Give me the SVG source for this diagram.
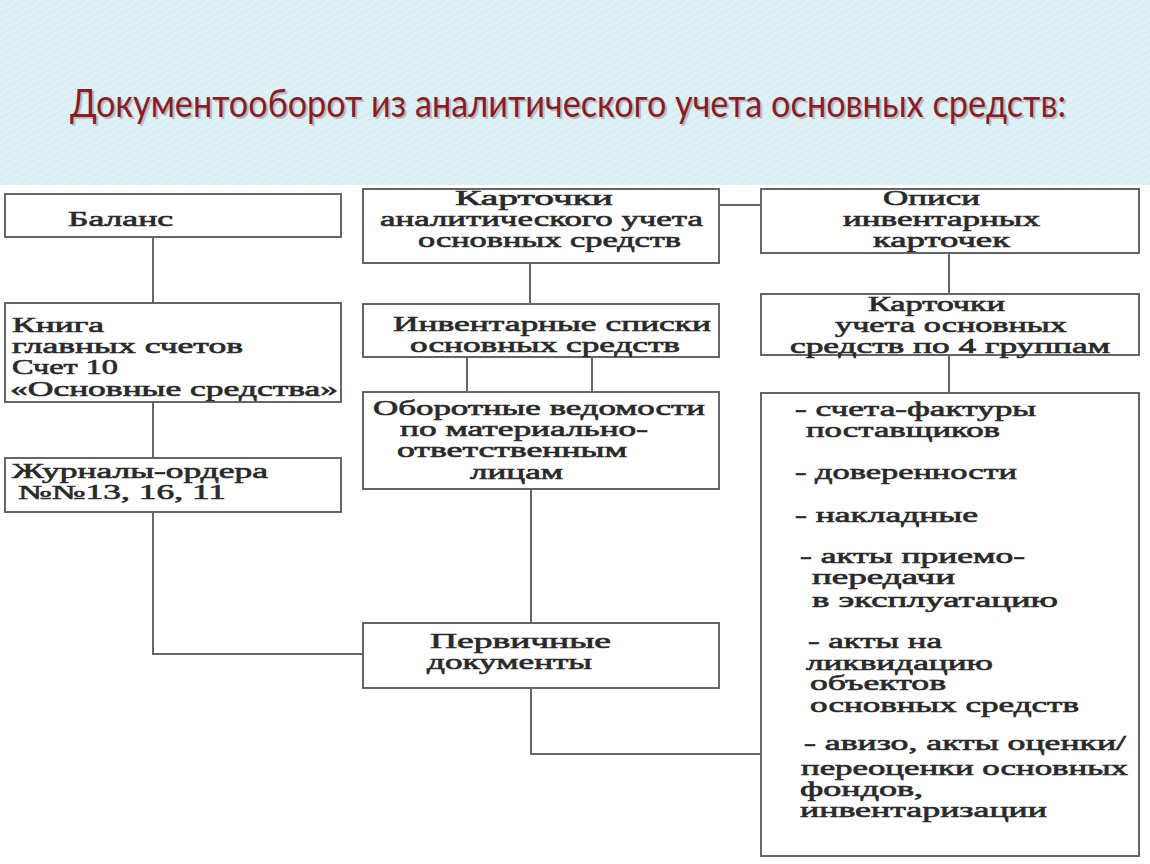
<svg xmlns="http://www.w3.org/2000/svg" width="1150" height="864" viewBox="0 0 1150 864">
<style>
.box{fill:#ffffff;stroke:#666666;stroke-width:2}
.con{fill:none;stroke:#666666;stroke-width:2}
.t{font-family:"Liberation Serif","Times New Roman",serif;font-size:20px;font-weight:normal;fill:#2a2a2a;stroke:#2a2a2a;stroke-width:0.6}
.title{font-family:Lato,"Open Sans","Liberation Sans",sans-serif;font-size:39px;fill:#8e1b24}
.shadow{font-family:Lato,"Open Sans","Liberation Sans",sans-serif;font-size:39px;fill:#555555;opacity:0.3}
</style>
<defs>
<pattern id="stripes" width="6" height="6" patternUnits="userSpaceOnUse" patternTransform="rotate(60)">
<rect width="6" height="6" fill="#ddf1f6"/>
<line x1="0" y1="0" x2="0" y2="6" stroke="#cfe9f0" stroke-width="1.5"/>
</pattern>
</defs>
<rect x="0" y="0" width="1150" height="864" fill="#ffffff"/>
<rect x="0" y="0" width="1150" height="185" fill="url(#stripes)"/>
<g id="title">
<text class="shadow" x="72" y="119" textLength="996" lengthAdjust="spacingAndGlyphs">Документооборот из аналитического учета основных средств:</text>
<text class="title" x="70" y="117" textLength="996" lengthAdjust="spacingAndGlyphs">Документооборот из аналитического учета основных средств:</text>
</g>
<g id="connectors">
<line class="con" x1="153" y1="237" x2="153" y2="303"/>
<line class="con" x1="153" y1="402" x2="153" y2="458"/>
<polyline class="con" points="153,512 153,654 363,654"/>
<line class="con" x1="530" y1="263" x2="530" y2="304"/>
<line class="con" x1="467" y1="357" x2="467" y2="392"/>
<line class="con" x1="592" y1="357" x2="592" y2="392"/>
<line class="con" x1="531" y1="489" x2="531" y2="623"/>
<polyline class="con" points="531,688 531,754 761,754"/>
<line class="con" x1="719" y1="205" x2="761" y2="205"/>
<line class="con" x1="949" y1="253" x2="949" y2="294"/>
<line class="con" x1="949" y1="355" x2="949" y2="393"/>
</g>
<g id="balance">
<rect class="box" x="5" y="194" width="336" height="43"/>
<text class="t" x="68" y="226" textLength="105" lengthAdjust="spacingAndGlyphs">Баланс</text>
</g>
<g id="ledger">
<rect class="box" x="5" y="303" width="336" height="99"/>
<text class="t" x="12" y="332" textLength="92" lengthAdjust="spacingAndGlyphs">Книга</text>
<text class="t" x="12" y="353" textLength="231" lengthAdjust="spacingAndGlyphs">главных счетов</text>
<text class="t" x="12" y="374" textLength="106" lengthAdjust="spacingAndGlyphs">Счет 10</text>
<text class="t" x="10" y="396" textLength="328" lengthAdjust="spacingAndGlyphs">«Основные средства»</text>
</g>
<g id="journals">
<rect class="box" x="5" y="458" width="336" height="54"/>
<text class="t" x="12" y="478" textLength="256" lengthAdjust="spacingAndGlyphs">Журналы-ордера</text>
<text class="t" x="18" y="499" textLength="208" lengthAdjust="spacingAndGlyphs">№№13, 16, 11</text>
</g>
<g id="cards-analytic">
<rect class="box" x="363" y="189" width="356" height="74"/>
<text class="t" x="455" y="205" textLength="158" lengthAdjust="spacingAndGlyphs">Карточки</text>
<text class="t" x="380" y="226" textLength="323" lengthAdjust="spacingAndGlyphs">аналитического учета</text>
<text class="t" x="418" y="247" textLength="263" lengthAdjust="spacingAndGlyphs">основных средств</text>
</g>
<g id="inventory-lists">
<rect class="box" x="363" y="304" width="356" height="53"/>
<text class="t" x="393" y="331" textLength="318" lengthAdjust="spacingAndGlyphs">Инвентарные списки</text>
<text class="t" x="410" y="352" textLength="270" lengthAdjust="spacingAndGlyphs">основных средств</text>
</g>
<g id="turnover">
<rect class="box" x="363" y="392" width="356" height="97"/>
<text class="t" x="373" y="415" textLength="332" lengthAdjust="spacingAndGlyphs">Оборотные ведомости</text>
<text class="t" x="400" y="436" textLength="248" lengthAdjust="spacingAndGlyphs">по материально-</text>
<text class="t" x="397" y="457" textLength="230" lengthAdjust="spacingAndGlyphs">ответственным</text>
<text class="t" x="470" y="479" textLength="93" lengthAdjust="spacingAndGlyphs">лицам</text>
</g>
<g id="primary">
<rect class="box" x="363" y="623" width="356" height="65"/>
<text class="t" x="430" y="648" textLength="181" lengthAdjust="spacingAndGlyphs">Первичные</text>
<text class="t" x="427" y="669" textLength="165" lengthAdjust="spacingAndGlyphs">документы</text>
</g>
<g id="inventory-registers">
<rect class="box" x="761" y="189" width="378" height="64"/>
<text class="t" x="883" y="205" textLength="97" lengthAdjust="spacingAndGlyphs">Описи</text>
<text class="t" x="843" y="226" textLength="197" lengthAdjust="spacingAndGlyphs">инвентарных</text>
<text class="t" x="873" y="247" textLength="137" lengthAdjust="spacingAndGlyphs">карточек</text>
</g>
<g id="cards-groups">
<rect class="box" x="761" y="294" width="378" height="61"/>
<text class="t" x="868" y="311" textLength="137" lengthAdjust="spacingAndGlyphs">Карточки</text>
<text class="t" x="835" y="332" textLength="232" lengthAdjust="spacingAndGlyphs">учета основных</text>
<text class="t" x="790" y="353" textLength="320" lengthAdjust="spacingAndGlyphs">средств по 4 группам</text>
</g>
<g id="documents">
<rect class="box" x="761" y="393" width="378" height="463"/>
<text class="t" x="795" y="416" textLength="241" lengthAdjust="spacingAndGlyphs">- счета-фактуры</text>
<text class="t" x="806" y="437" textLength="194" lengthAdjust="spacingAndGlyphs">поставщиков</text>
<text class="t" x="795" y="479" textLength="222" lengthAdjust="spacingAndGlyphs">- доверенности</text>
<text class="t" x="795" y="522" textLength="183" lengthAdjust="spacingAndGlyphs">- накладные</text>
<text class="t" x="800" y="563" textLength="225" lengthAdjust="spacingAndGlyphs">- акты приемо-</text>
<text class="t" x="812" y="584" textLength="143" lengthAdjust="spacingAndGlyphs">передачи</text>
<text class="t" x="812" y="607" textLength="246" lengthAdjust="spacingAndGlyphs">в эксплуатацию</text>
<text class="t" x="808" y="648" textLength="134" lengthAdjust="spacingAndGlyphs">- акты на</text>
<text class="t" x="806" y="670" textLength="187" lengthAdjust="spacingAndGlyphs">ликвидацию</text>
<text class="t" x="810" y="690" textLength="136" lengthAdjust="spacingAndGlyphs">объектов</text>
<text class="t" x="810" y="712" textLength="269" lengthAdjust="spacingAndGlyphs">основных средств</text>
<text class="t" x="804" y="750" textLength="322" lengthAdjust="spacingAndGlyphs">- авизо, акты оценки/</text>
<text class="t" x="801" y="775" textLength="327" lengthAdjust="spacingAndGlyphs">переоценки основных</text>
<text class="t" x="800" y="796" textLength="123" lengthAdjust="spacingAndGlyphs">фондов,</text>
<text class="t" x="800" y="817" textLength="247" lengthAdjust="spacingAndGlyphs">инвентаризации</text>
</g>
</svg>
